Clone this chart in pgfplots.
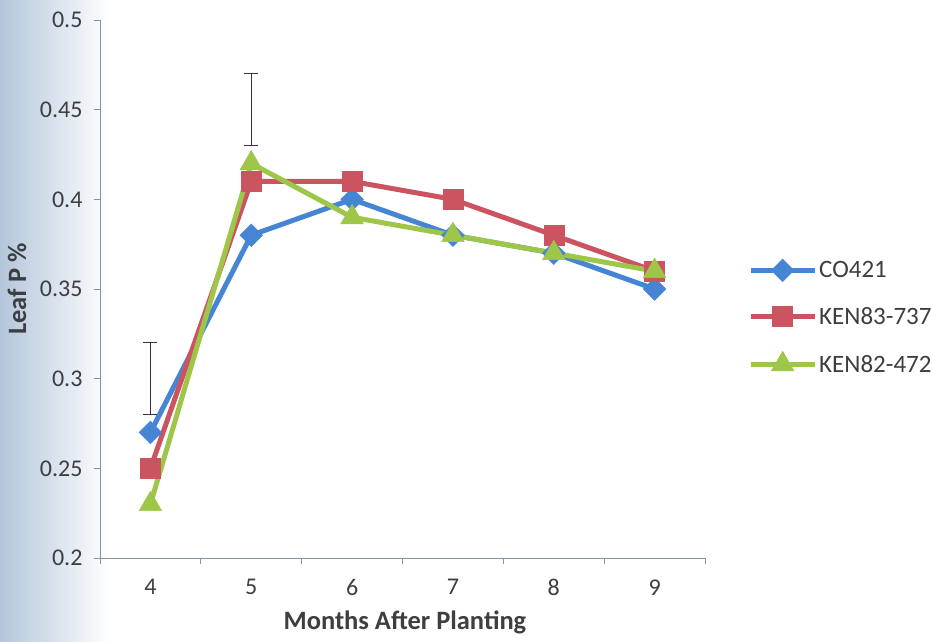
\documentclass[border=0pt]{standalone}
\usepackage{pgfplots}
\pgfplotsset{compat=1.18}
\usepackage{fontspec}
\setmainfont{Carlito}
\definecolor{cblue}{RGB}{70,132,212}
\definecolor{cred}{RGB}{204,84,96}
\definecolor{cgreen}{RGB}{158,198,72}
\definecolor{axgray}{RGB}{135,145,160}
\definecolor{txt}{RGB}{60,62,66}
\begin{document}
\begin{tikzpicture}
\useasboundingbox (-100pt,-83pt) rectangle (832pt,558pt);
\shade[left color={rgb,255:red,180;green,198;blue,220}, right color=white] (-100pt,-83pt) rectangle (10pt,558pt);
\begin{axis}[
  scale only axis, width=605pt, height=538pt,
  at={(0pt,0pt)}, anchor=south west,
  xmin=3.5, xmax=9.5, ymin=0.2, ymax=0.5,
  axis x line*=bottom, axis y line*=left,
  axis line style={draw=axgray, line width=0.8pt},
  xtick={4,...,9},
  major x tick style={draw=none},
  minor xtick={3.5,4.5,...,9.5},
  minor x tick style={draw=axgray, line width=0.8pt},
  ytick={0.2,0.25,...,0.51},
  y tick style={draw=axgray, line width=0.8pt},
  tick align=outside,
  major tick length=6pt, minor tick length=6pt,
  /pgf/number format/assume math mode=true,
  yticklabel style={/pgf/number format/fixed, /pgf/number format/precision=2, font=\fontsize{24}{28}\selectfont, text=txt, xshift=-8pt},
  xticklabel style={font=\fontsize{24}{28}\selectfont, text=txt, yshift=-12pt},
  xlabel={Months After Planting},
  xlabel style={font=\fontsize{26.5}{30}\selectfont\bfseries, text=txt, at={(axis description cs:0.504,-0.12)}, anchor=center},
  ylabel={Leaf P \%},
  ylabel style={font=\fontsize{26.5}{30}\selectfont\bfseries, text=txt, at={(axis description cs:-0.137,0.5)}, anchor=center, rotate=0},
  legend style={draw=none, fill=none, at={(rel axis cs:1.071,0.556)}, anchor=north west,
    font=\fontsize{25}{30}\selectfont, text=txt, row sep=23.5pt, inner sep=0pt},
  legend cell align=left,
  legend image code/.code={\draw[mark repeat=2,mark phase=2] plot coordinates {(0pt,0pt)(32pt,0pt)(64pt,0pt)};},
  every axis plot/.append style={line width=5pt},
  clip=false,
]
\addplot[draw=cblue, mark=square*, mark size=8pt, mark options={fill=cblue, draw=cblue, rotate=45, line width=0.5pt}]
  coordinates {(4,0.27) (5,0.38) (6,0.40) (7,0.38) (8,0.37) (9,0.35)};
\addlegendentry{CO421}
\addplot[draw=cred, mark=square*, mark size=10pt, mark options={fill=cred, draw=cred, line width=0.5pt}]
  coordinates {(4,0.25) (5,0.41) (6,0.41) (7,0.40) (8,0.38) (9,0.36)};
\addlegendentry{KEN83-737}
\addplot[draw=cgreen, mark=triangle*, mark size=13pt, mark options={fill=cgreen, draw=cgreen, line width=0.5pt}]
  coordinates {(4,0.23) (5,0.42) (6,0.39) (7,0.38) (8,0.37) (9,0.36)};
\addlegendentry{KEN82-472}
\addplot[draw=none, mark=none, forget plot,
  error bars/.cd, y dir=both, y explicit,
  error bar style={draw={rgb,255:red,50;green,52;blue,70}, line width=1.3pt},
  error mark options={rotate=90, mark size=7pt, draw={rgb,255:red,50;green,52;blue,70}, line width=1.3pt}]
  coordinates {(4,0.30) +- (0,0.02) (5,0.45) +- (0,0.02)};
\end{axis}
\end{tikzpicture}
\end{document}
